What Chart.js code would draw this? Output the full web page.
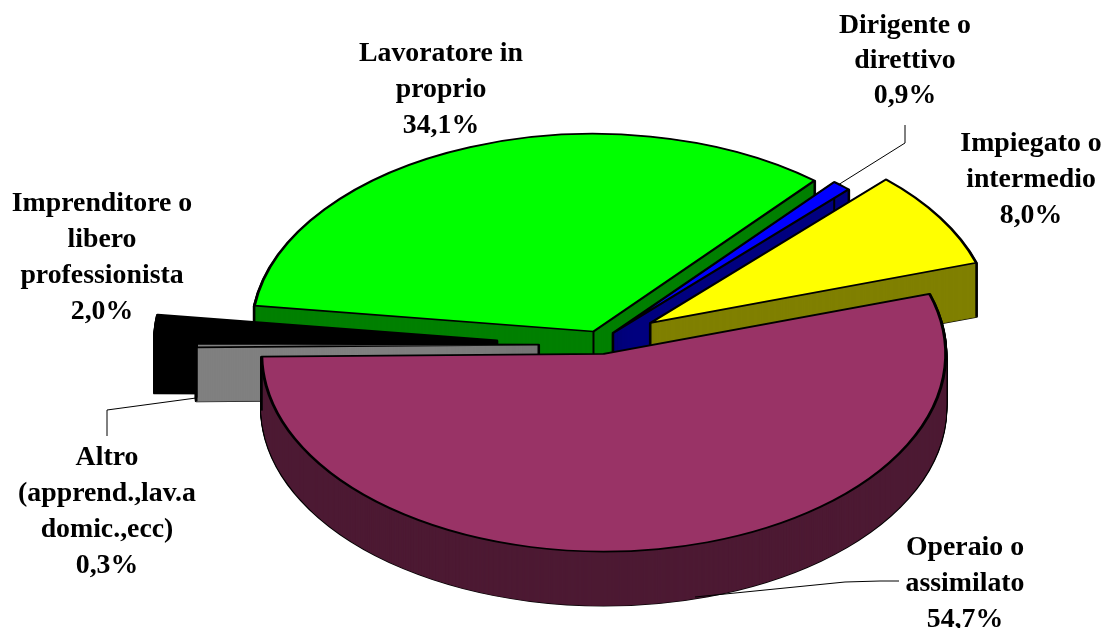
<!DOCTYPE html>
<html><head><meta charset="utf-8">
<style>html,body{margin:0;padding:0;background:#fff}canvas{display:block}</style>
<script src="https://cdn.jsdelivr.net/npm/chart.js@4"></script>
</head><body>
<canvas id="c" width="1106" height="628"></canvas>
<script>
const categories = ["Imprenditore o libero professionista","Lavoratore in proprio","Dirigente o direttivo","Impiegato o intermedio","Operaio o assimilato","Altro (apprend.,lav.a domic.,ecc)"];
const values = [2.0,34.1,0.9,8.0,54.7,0.3];
const topColors = ["#000000","#00ff00","#0000ff","#ffff00","#993366","#808080"];
const wallColors = ["#000000","#008000","#000080","#808000","#4d1933","#808080"];
const explodePx = [104,19.5,19,59,20,62];
const nudgeY = [3.5,1,0,0,1.5,3.5];
const drawOrder = [1,2,3,0,5,4];
const labelLines = [
  ["Imprenditore o","libero","professionista","2,0%"],
  ["Lavoratore in","proprio","34,1%"],
  ["Dirigente o","direttivo","0,9%"],
  ["Impiegato o","intermedio","8,0%"],
  ["Operaio o","assimilato","54,7%"],
  ["Altro","(apprend.,lav.a","domic.,ecc)","0,3%"]
];
const labelAnchors = [[102,204],[441,54],[905,26],[1031,144],[965,548],[107,458]];
const labelSteps = [36,36,35,36,36,36];
const leaders = [
  null,null,
  [[905,125],[905,143],[838,185]],
  null,
  [[899,581],[880,581],[845,582],[695,597]],
  [[107,436],[107,410],[196,398]]
];
const SQUASH = 0.578, DEPTH = 54, RADIUS = 342, LINE = 2.4;

function origin(arc, i){
  const mid = (arc.startAngle+arc.endAngle)/2, ex = explodePx[i];
  return [arc.x + Math.cos(mid)*ex, arc.y + Math.sin(mid)*ex*SQUASH + nudgeY[i]];
}
function withArc(ctx, arc, i, dy, over){
  const saved = arc.options, o = origin(arc, i);
  arc.options = Object.assign({}, saved, over);
  ctx.save();
  ctx.translate(o[0], o[1] + dy);
  ctx.scale(1, SQUASH);
  ctx.translate(-arc.x, -arc.y);
  arc.draw(ctx);
  ctx.restore();
  arc.options = saved;
}
const pie3d = {
  id:'pie3d',
  beforeDatasetDraw(chart, args){
    const ctx = chart.ctx, arcs = args.meta.data;
    drawOrder.forEach(i=>{
      const arc = arcs[i];
      for(let k=DEPTH;k>=1;k--) withArc(ctx,arc,i,k,{borderWidth:LINE+1,borderColor:'#000',backgroundColor:'#000',borderJoinStyle:'round'});
      for(let k=DEPTH;k>=1;k--) withArc(ctx,arc,i,k,{borderWidth:1,backgroundColor:wallColors[i],borderColor:wallColors[i],borderJoinStyle:'round'});
      // vertical edges at the three corners of the slice
      const [ox,oy]=origin(arc,i);
      const pts=[[ox,oy],
        [ox+Math.cos(arc.startAngle)*arc.outerRadius, oy+Math.sin(arc.startAngle)*arc.outerRadius*SQUASH],
        [ox+Math.cos(arc.endAngle)*arc.outerRadius, oy+Math.sin(arc.endAngle)*arc.outerRadius*SQUASH]];
      ctx.save();ctx.strokeStyle='#000';ctx.lineWidth=LINE-0.4;
      pts.forEach(p=>{ctx.beginPath();ctx.moveTo(p[0],p[1]);ctx.lineTo(p[0],p[1]+DEPTH);ctx.stroke();});
      ctx.restore();
      withArc(ctx,arc,i,0,{borderWidth:LINE+0.6,borderColor:'#000',backgroundColor:topColors[i],borderJoinStyle:'round'});
    });
    return false;
  },
  afterDraw(chart){
    const ctx = chart.ctx;
    ctx.save();
    ctx.strokeStyle='#000';ctx.lineWidth=1;
    leaders.forEach(l=>{ if(!l) return; ctx.beginPath(); l.forEach((p,j)=> j?ctx.lineTo(p[0],p[1]):ctx.moveTo(p[0],p[1])); ctx.stroke(); });
    ctx.fillStyle='#000';ctx.font='bold 27.8px "Liberation Serif"';ctx.textAlign='center';ctx.textBaseline='middle';
    labelLines.forEach((lines,i)=>lines.forEach((t,j)=>ctx.fillText(t,labelAnchors[i][0],labelAnchors[i][1]+j*labelSteps[i])));
    ctx.restore();
  }
};
new Chart(document.getElementById('c'),{
  type:'pie',
  data:{labels:categories,datasets:[{data:values,backgroundColor:topColors,borderColor:'#000',borderWidth:2}]},
  options:{responsive:false,animation:false,rotation:270.3,radius:RADIUS,
    layout:{padding:{left:95,top:54}},
    plugins:{legend:{display:false},tooltip:{enabled:false}}},
  plugins:[pie3d]
});
</script>
</body></html>
